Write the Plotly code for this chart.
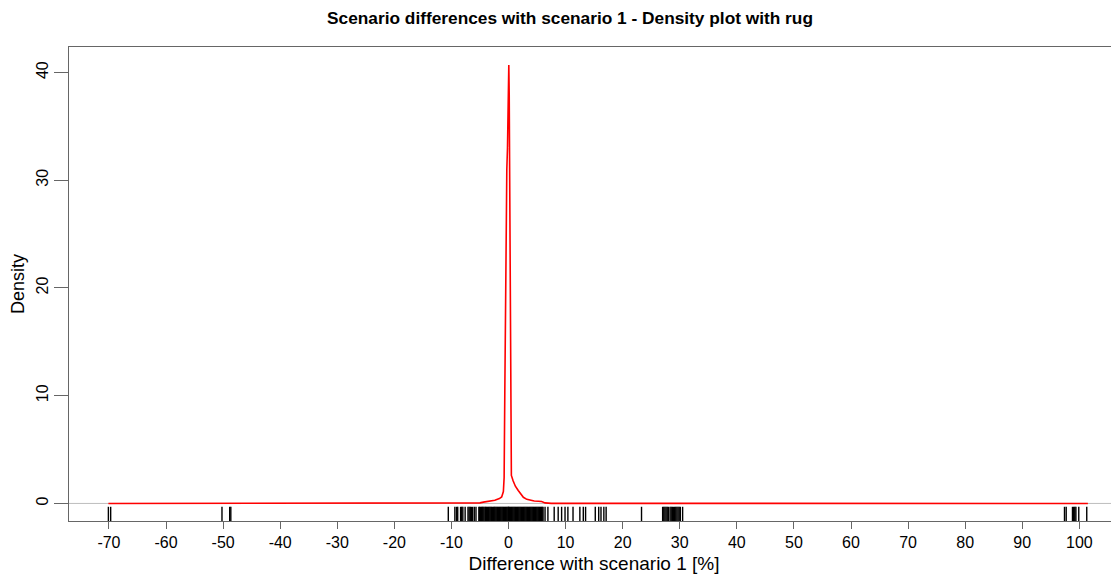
import plotly.graph_objects as go

# Density curve (x in %, density)
dens_x = [-70.1, -6.0, -5.0, -4.4, -3.5, -2.4, -1.6, -1.2, -0.9, -0.77, -0.65, -0.53, -0.48,
          -0.3, -0.18, 0.0, 0.05, 0.12, 0.22, 0.34, 0.4, 0.5, 0.8, 1.2, 1.7, 2.2, 2.6, 3.2,
          3.8, 4.5, 5.2, 5.8, 6.4, 7.5, 101.5]
dens_y = [0.0, 0.0, 0.05, 0.12, 0.17, 0.3, 0.45, 0.6, 1.1, 2.4, 10.3, 16.8, 25.0,
          31.0, 33.0, 40.0, 40.7, 38.0, 28.3, 16.0, 3.4, 2.6, 2.1, 1.6, 1.2, 0.8, 0.57, 0.38,
          0.28, 0.22, 0.2, 0.18, 0.05, 0.01, 0.0]

# Rug values (observations)
rug_values = [
    -70.1, -69.7, -50.2, -48.85, -48.65,
    -10.55, -9.4, -9.1, -8.9, -8.4, -8.2, -8.0, -7.6, -7.1, -6.9, -6.7, -6.5, -6.3, -6.0, -5.7,
    -5.2, -5.05, -4.9, -4.72, -4.6, -4.45, -4.3, -4.12, -4.0, -3.85, -3.7, -3.52, -3.4, -3.25,
    -3.1, -2.95, -2.8, -2.62, -2.5, -2.35, -2.2, -2.05, -1.9, -1.75, -1.6, -1.45, -1.3, -1.15,
    -1.0, -0.85, -0.7, -0.55, -0.4, -0.25, -0.1, 0.0, 0.05, 0.2, 0.35, 0.5, 0.65, 0.8, 0.95,
    1.1, 1.25, 1.4, 1.55, 1.7, 1.85, 2.0, 2.15, 2.3, 2.45, 2.6, 2.75, 2.9, 3.05, 3.2, 3.35,
    3.5, 3.65, 3.8, 3.95, 4.1, 4.25, 4.4, 4.55, 4.7, 4.85, 5.0, 5.15, 5.3, 5.45, 5.6, 5.75,
    5.9, 6.05,
    6.4, 6.9, 8.0, 8.7, 9.3, 9.9, 10.4, 11.3, 12.5, 13.1, 13.5,
    15.2, 15.8, 16.2, 16.7, 17.1, 23.3,
    27.0, 27.2, 27.4, 27.6, 27.8, 28.0, 28.3, 28.5, 28.7, 28.9, 29.1, 29.3, 29.5, 29.7, 29.9,
    30.1, 30.5,
    97.4, 97.7, 98.8, 99.0, 99.2, 99.4, 99.9, 101.3,
]

x_ticks = list(range(-70, 101, 10))
x_tick_labels = [str(v) for v in x_ticks]
y_ticks = [0, 10, 20, 30, 40]
y_tick_labels = [str(v) for v in y_ticks]

FONT = "Liberation Sans, Arial, sans-serif"

# page body has an 8px margin; figure is sized to end at the window edge
W, H, OFF = 1111, 566, 8

fig = go.Figure()

fig.add_trace(go.Scatter(x=dens_x, y=dens_y, mode="lines",
                         line=dict(color="#ff0000", width=1.6), hoverinfo="skip",
                         showlegend=False))

shapes = [dict(type="line", xref="paper", yref="y", x0=0, x1=1, y0=0, y1=0,
               line=dict(color="#bebebe", width=1), layer="below")]
for v in rug_values:
    shapes.append(dict(type="line", xref="x", yref="y domain", x0=v, x1=v, y0=0, y1=0.03,
                       line=dict(color="#000000", width=1.4)))

fig.update_layout(
    width=W, height=H,
    margin=dict(l=69 - OFF, r=0, t=47 - OFF, b=61 - OFF),
    paper_bgcolor="white", plot_bgcolor="white",
    font=dict(family=FONT, color="#000000", size=16),
    title=dict(text="<b>Scenario differences with scenario 1 - Density plot with rug</b>",
               x=(570 - OFF) / W, xanchor="center", xref="container",
               y=1 - (18 - OFF) / H, yanchor="middle", yref="container",
               font=dict(size=17.3, family=FONT, color="#000000")),
    shapes=shapes,
    xaxis=dict(range=[-77.0, 106.95], tickmode="array", tickvals=x_ticks, ticktext=x_tick_labels,
               showline=True, linecolor="#666666", linewidth=1, mirror=True,
               ticks="outside", ticklen=7, tickcolor="#666666", showgrid=False, zeroline=False,
               tickfont=dict(size=16),
               title=dict(text="Difference with scenario 1 [%]", font=dict(size=19), standoff=6)),
    yaxis=dict(range=[-1.63, 42.37], tickmode="array", tickvals=y_ticks, ticktext=y_tick_labels,
               showline=True, linecolor="#666666", linewidth=1, mirror=False,
               ticks="outside", ticklen=14, tickcolor="#666666", showgrid=False, zeroline=False,
               tickangle=-90, tickfont=dict(size=16),
               title=dict(text="Density", font=dict(size=18), standoff=10)),
)

fig.write_html("out.html")
